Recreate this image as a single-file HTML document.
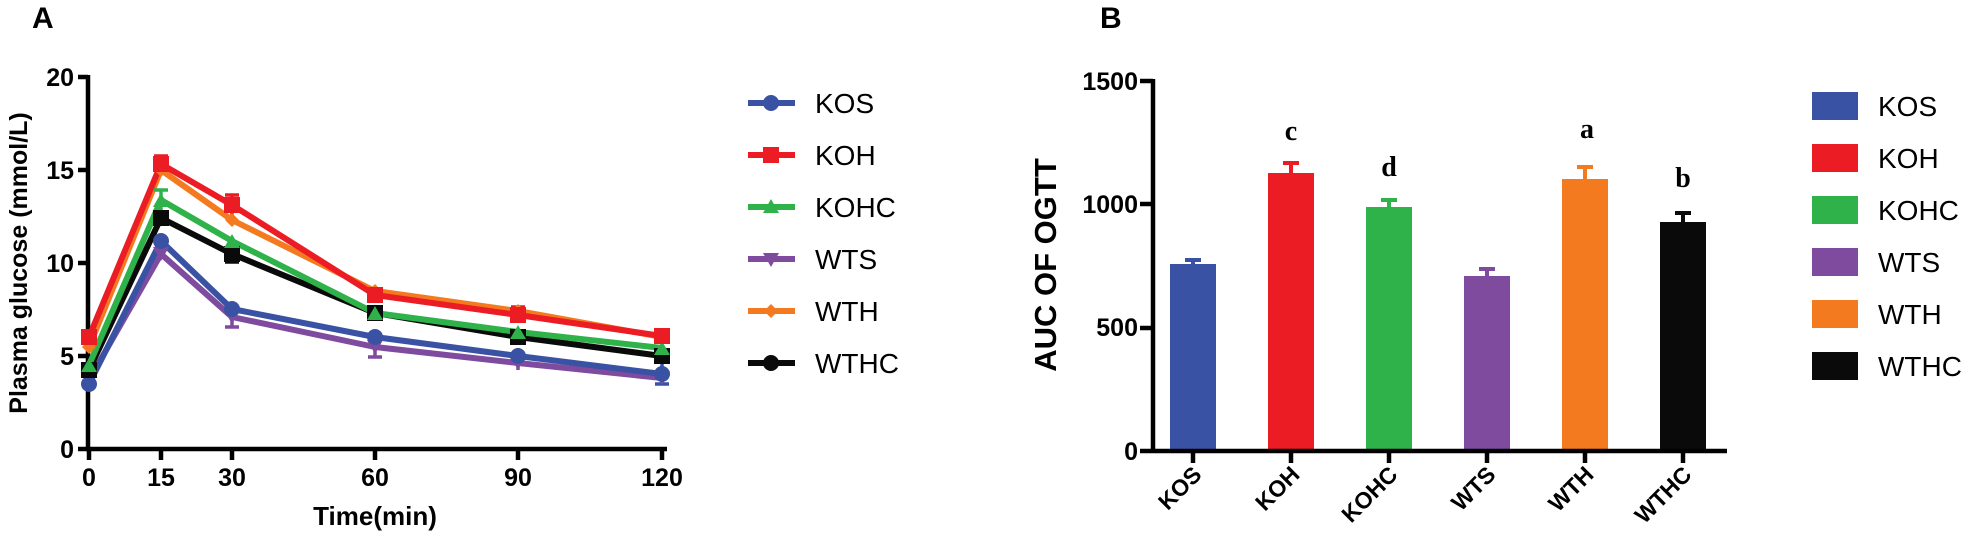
<!DOCTYPE html>
<html><head><meta charset="utf-8"><style>
html,body{margin:0;padding:0;background:#fff;}
svg{display:block;font-family:"Liberation Sans",Arial,sans-serif;}
</style></head><body>
<svg width="1973" height="546" viewBox="0 0 1973 546" xmlns="http://www.w3.org/2000/svg">
<rect width="1973" height="546" fill="#fff"/>
<!-- Panel A -->
<text x="32" y="28" font-size="30" font-weight="bold">A</text>
<g stroke="#000" stroke-width="4.5" fill="none">
<line x1="88" y1="75" x2="88" y2="451"/>
<line x1="86" y1="449" x2="667" y2="449"/>
<line x1="78" y1="77" x2="88" y2="77"/>
<line x1="78" y1="170" x2="88" y2="170"/>
<line x1="78" y1="263" x2="88" y2="263"/>
<line x1="78" y1="356" x2="88" y2="356"/>
<line x1="78" y1="449" x2="88" y2="449"/>
<line x1="89" y1="449" x2="89" y2="460"/>
<line x1="161" y1="449" x2="161" y2="460"/>
<line x1="232" y1="449" x2="232" y2="460"/>
<line x1="375" y1="449" x2="375" y2="460"/>
<line x1="518" y1="449" x2="518" y2="460"/>
<line x1="662" y1="449" x2="662" y2="460"/>
</g>
<g font-size="25" font-weight="bold" text-anchor="end">
<text x="74" y="86">20</text><text x="74" y="179">15</text><text x="74" y="272">10</text><text x="74" y="365">5</text><text x="74" y="458">0</text>
</g>
<g font-size="25" font-weight="bold" text-anchor="middle">
<text x="89" y="486">0</text><text x="161" y="486">15</text><text x="232" y="486">30</text><text x="375" y="486">60</text><text x="518" y="486">90</text><text x="662" y="486">120</text>
</g>
<text x="375" y="525" font-size="26" font-weight="bold" text-anchor="middle">Time(min)</text>
<text transform="translate(27,263) rotate(-90)" font-size="25" font-weight="bold" text-anchor="middle">Plasma glucose (mmol/L)</text>

<g fill="none" stroke-width="6" stroke-linejoin="round">
<polyline stroke="#7f4b9e" points="89,380 161,254 232,317 375,347 518,363 662,378"/>
<polyline stroke="#3a52a4" points="89,384 161,241 232,309 375,337 518,356 662,374"/>
<polyline stroke="#0a0a0a" points="89,370 161,218 232,254 375,313 518,337 662,356"/>
<polyline stroke="#2fb24a" points="89,365 161,200 232,241 375,313 518,332 662,348"/>
<polyline stroke="#f47a20" points="89,347 161,170 232,220 375,291 518,311 662,337"/>
<polyline stroke="#ec1c24" points="89,337 161,164 232,205 375,295 518,315 662,336"/>
</g>
<!-- error bars -->
<g stroke-width="3.5" fill="none">
<path stroke="#ec1c24" d="M161,156v16M154,156h14M232,195v20M225,195h14M518,307v16M511,307h14"/>
<path stroke="#2fb24a" d="M161,190v20M154,190h14"/>
<path stroke="#7f4b9e" d="M232,307v20M225,327h14M375,337v20M368,357h14M518,356v14M662,368v16"/>
<path stroke="#3a52a4" d="M662,364v20M655,384h14M518,348v16"/>
<path stroke="#0a0a0a" d="M232,246v16M225,262h14"/>
</g>
<!-- markers -->
<g fill="#7f4b9e"><path d="M81,373h16l-8,14z M153,247h16l-8,14z M224,310h16l-8,14z M367,340h16l-8,14z M510,356h16l-8,14z M654,371h16l-8,14z"/></g>
<g fill="#3a52a4"><circle cx="89" cy="384" r="8"/><circle cx="161" cy="241" r="8"/><circle cx="232" cy="309" r="8"/><circle cx="375" cy="337" r="8"/><circle cx="518" cy="356" r="8"/><circle cx="662" cy="374" r="8"/></g>
<g fill="#0a0a0a"><rect x="81" y="362" width="16" height="16"/><rect x="153" y="210" width="16" height="16"/><rect x="224" y="246" width="16" height="16"/><rect x="367" y="305" width="16" height="16"/><rect x="510" y="329" width="16" height="16"/><rect x="654" y="348" width="16" height="16"/></g>
<g fill="#2fb24a"><path d="M81,372h16l-8,-14z M153,207h16l-8,-14z M224,248h16l-8,-14z M367,320h16l-8,-14z M510,339h16l-8,-14z M654,355h16l-8,-14z"/></g>
<g fill="#f47a20"><path d="M89,340l7,7l-7,7l-7,-7z M161,163l7,7l-7,7l-7,-7z M232,213l7,7l-7,7l-7,-7z M375,284l7,7l-7,7l-7,-7z M518,304l7,7l-7,7l-7,-7z M662,330l7,7l-7,7l-7,-7z"/></g>
<g fill="#ec1c24"><rect x="81" y="329" width="16" height="16"/><rect x="153" y="156" width="16" height="16"/><rect x="224" y="197" width="16" height="16"/><rect x="367" y="287" width="16" height="16"/><rect x="510" y="307" width="16" height="16"/><rect x="654" y="328" width="16" height="16"/></g>

<!-- Legend A -->
<g stroke-width="6">
<line x1="748" y1="103" x2="795" y2="103" stroke="#3a52a4"/>
<line x1="748" y1="155" x2="795" y2="155" stroke="#ec1c24"/>
<line x1="748" y1="207" x2="795" y2="207" stroke="#2fb24a"/>
<line x1="748" y1="259" x2="795" y2="259" stroke="#7f4b9e"/>
<line x1="748" y1="311" x2="795" y2="311" stroke="#f47a20"/>
<line x1="748" y1="363" x2="795" y2="363" stroke="#0a0a0a"/>
</g>
<circle cx="771" cy="103" r="8" fill="#3a52a4"/>
<rect x="763" y="147" width="16" height="16" fill="#ec1c24"/>
<path d="M763,213h16l-8,-14z" fill="#2fb24a"/>
<path d="M763,253h16l-8,14z" fill="#7f4b9e"/>
<path d="M771,304l7,7l-7,7l-7,-7z" fill="#f47a20"/>
<circle cx="771" cy="363" r="8" fill="#0a0a0a"/>
<g font-size="28">
<text x="815" y="113">KOS</text><text x="815" y="165">KOH</text><text x="815" y="217">KOHC</text><text x="815" y="269">WTS</text><text x="815" y="321">WTH</text><text x="815" y="373">WTHC</text>
</g>

<!-- Panel B -->
<text x="1100" y="28" font-size="30" font-weight="bold">B</text>
<text transform="translate(1056,265) rotate(-90)" font-size="31" font-weight="bold" text-anchor="middle">AUC OF OGTT</text>
<g font-size="25" font-weight="bold" text-anchor="end">
<text x="1138" y="90">1500</text><text x="1138" y="213">1000</text><text x="1138" y="336">500</text><text x="1138" y="460">0</text>
</g>
<rect x="1170" y="264" width="46" height="187" fill="#3a52a4"/>
<rect x="1268" y="173" width="46" height="278" fill="#ec1c24"/>
<rect x="1366" y="207" width="46" height="244" fill="#2fb24a"/>
<rect x="1464" y="276" width="46" height="175" fill="#7f4b9e"/>
<rect x="1562" y="179" width="46" height="272" fill="#f47a20"/>
<rect x="1660" y="222" width="46" height="229" fill="#0a0a0a"/>
<g stroke-width="4" fill="none">
<path stroke="#3a52a4" d="M1193,264v-4M1185,260h16"/>
<path stroke="#ec1c24" d="M1291,173v-10M1283,163h16"/>
<path stroke="#2fb24a" d="M1389,207v-7M1381,200h16"/>
<path stroke="#7f4b9e" d="M1487,276v-7M1479,269h16"/>
<path stroke="#f47a20" d="M1585,179v-12M1577,167h16"/>
<path stroke="#0a0a0a" d="M1683,222v-9M1675,213h16"/>
</g>
<g stroke="#000" stroke-width="4.5" fill="none">
<line x1="1153" y1="79" x2="1153" y2="453"/>
<line x1="1140" y1="81" x2="1153" y2="81"/>
<line x1="1140" y1="204" x2="1153" y2="204"/>
<line x1="1140" y1="328" x2="1153" y2="328"/>
<line x1="1140" y1="451" x2="1727" y2="451"/>
<line x1="1193" y1="451" x2="1193" y2="463"/>
<line x1="1291" y1="451" x2="1291" y2="463"/>
<line x1="1389" y1="451" x2="1389" y2="463"/>
<line x1="1487" y1="451" x2="1487" y2="463"/>
<line x1="1585" y1="451" x2="1585" y2="463"/>
<line x1="1683" y1="451" x2="1683" y2="463"/>
</g>
<g font-family="Liberation Serif,serif" font-size="28" font-weight="bold" text-anchor="middle">
<text x="1291" y="140">c</text><text x="1389" y="176">d</text><text x="1587" y="138">a</text><text x="1683" y="187">b</text>
</g>
<g font-size="23" font-weight="bold" text-anchor="end">
<text transform="translate(1203,476) rotate(-45)">KOS</text>
<text transform="translate(1301,476) rotate(-45)">KOH</text>
<text transform="translate(1399,476) rotate(-45)">KOHC</text>
<text transform="translate(1497,476) rotate(-45)">WTS</text>
<text transform="translate(1595,476) rotate(-45)">WTH</text>
<text transform="translate(1693,476) rotate(-45)">WTHC</text>
</g>
<!-- Legend B -->
<rect x="1812" y="92" width="46" height="28" fill="#3a52a4"/>
<rect x="1812" y="144" width="46" height="28" fill="#ec1c24"/>
<rect x="1812" y="196" width="46" height="28" fill="#2fb24a"/>
<rect x="1812" y="248" width="46" height="28" fill="#7f4b9e"/>
<rect x="1812" y="300" width="46" height="28" fill="#f47a20"/>
<rect x="1812" y="352" width="46" height="28" fill="#0a0a0a"/>
<g font-size="28">
<text x="1878" y="116">KOS</text><text x="1878" y="168">KOH</text><text x="1878" y="220">KOHC</text><text x="1878" y="272">WTS</text><text x="1878" y="324">WTH</text><text x="1878" y="376">WTHC</text>
</g>
</svg>
</body></html>
